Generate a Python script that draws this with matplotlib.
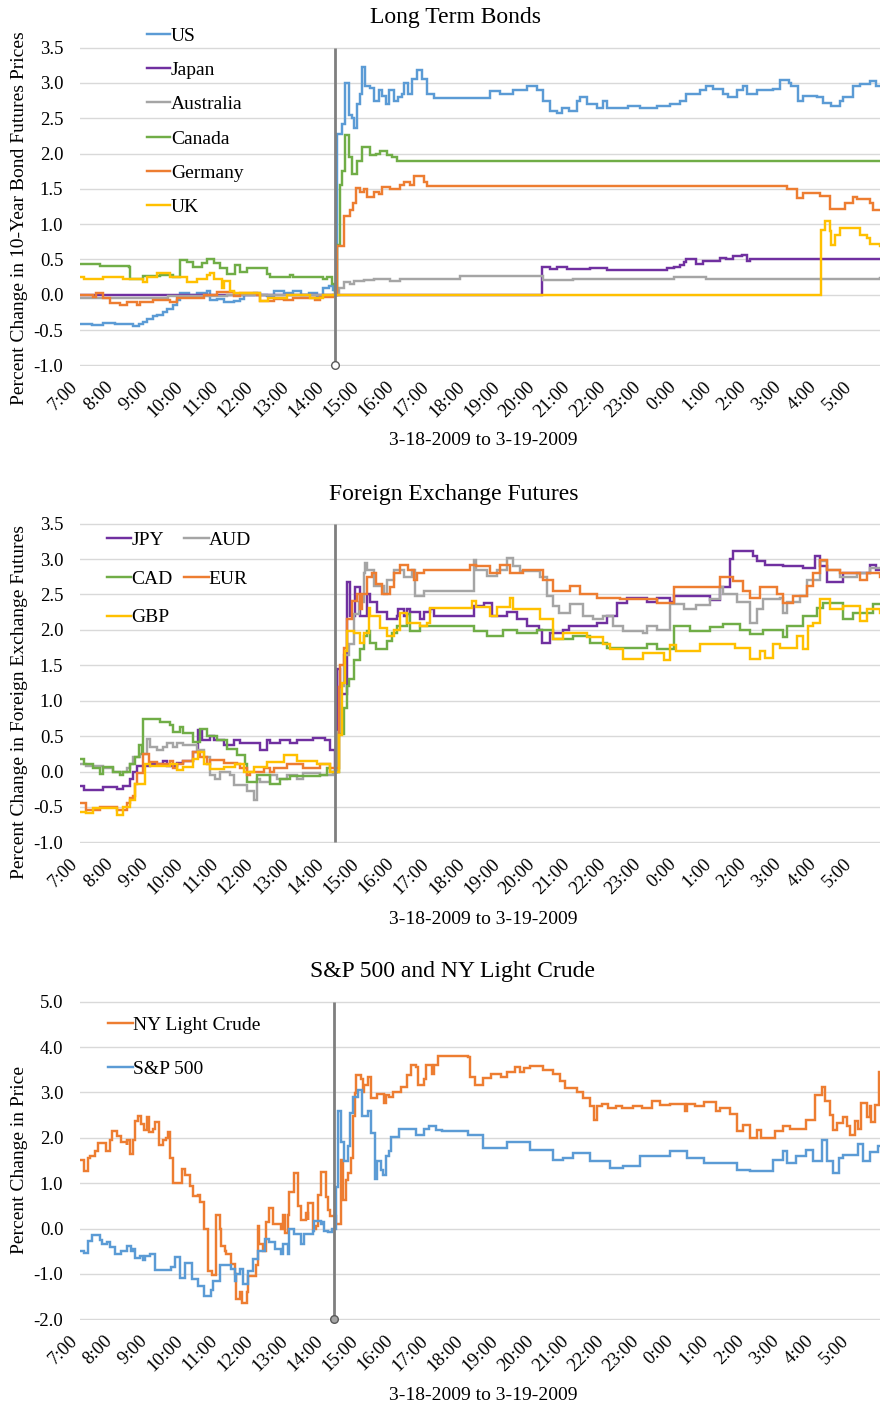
import matplotlib
matplotlib.use("Agg")
import matplotlib.pyplot as plt
from matplotlib.transforms import ScaledTranslation

plt.rcParams['font.family'] = ['Liberation Serif', 'DejaVu Serif']

# ---------------- data (minutes after 7:00 on 3-18-2009, percent change) ----------------
hour_labels = ["7:00", "8:00", "9:00", "10:00", "11:00", "12:00", "13:00", "14:00", "15:00",
               "16:00", "17:00", "18:00", "19:00", "20:00", "21:00", "22:00", "23:00", "0:00",
               "1:00", "2:00", "3:00", "4:00", "5:00"]
announce_t = 435  # 14:15

# Panel 1: Long term bonds
us_t = [0, 20, 40, 60, 80, 91, 100, 108, 114, 125, 131, 142, 148, 159, 165, 171, 185, 199, 211, 216, 222, 233,
        245, 262, 273, 279, 296, 307, 319, 330, 347, 364, 376, 390, 404, 415, 424, 432, 435, 439, 447, 452, 458,
        464, 467, 472, 477, 481, 486, 495, 501, 509, 515, 521, 526, 535, 543, 549, 552, 560, 566, 575, 583, 592,
        603, 699, 716, 739, 762, 779, 790, 801, 813, 821, 833, 847, 853, 864, 881, 892, 898, 935, 955, 983, 1006,
        1023, 1034, 1057, 1068, 1080, 1097, 1105, 1120, 1131, 1137, 1154, 1182, 1193, 1208, 1213, 1225, 1233,
        1256, 1267, 1281, 1296, 1301, 1318, 1330, 1347, 1358, 1364]
us_v = [-0.41, -0.43, -0.40, -0.42, -0.41, -0.44, -0.42, -0.38, -0.35, -0.30, -0.28, -0.24, -0.20, -0.15, -0.08,
        0.02, 0.0, 0.03, 0.02, 0.05, -0.08, -0.06, -0.10, -0.09, -0.06, 0.0, 0.03, 0.0, -0.02, 0.05, 0.03, 0.06,
        0.0, 0.02, -0.02, 0.10, 0.12, 0.07, 0.0, 2.28, 2.42, 3.00, 2.55, 2.50, 2.36, 2.70, 2.85, 3.22, 2.95, 2.93,
        2.75, 2.90, 2.82, 2.70, 2.90, 2.75, 2.80, 2.85, 3.00, 2.85, 3.05, 3.18, 3.05, 2.85, 2.78, 2.88, 2.85, 2.90,
        2.95, 2.90, 2.75, 2.60, 2.58, 2.65, 2.60, 2.75, 2.80, 2.70, 2.65, 2.75, 2.65, 2.68, 2.65, 2.68, 2.70, 2.75,
        2.85, 2.90, 2.96, 2.92, 2.85, 2.80, 2.90, 2.95, 2.85, 2.90, 2.92, 3.04, 3.00, 2.95, 2.75, 2.82, 2.80, 2.72,
        2.67, 2.75, 2.80, 2.95, 2.98, 3.03, 2.95, 2.95]

japan_t = [0, 787, 801, 813, 830, 847, 870, 898, 1000, 1012, 1023, 1029, 1034, 1051, 1063, 1091, 1102, 1114, 1128,
           1137, 1142, 1364]
japan_v = [0.0, 0.40, 0.37, 0.40, 0.36, 0.37, 0.38, 0.35, 0.38, 0.40, 0.42, 0.47, 0.51, 0.44, 0.48, 0.52, 0.50,
           0.55, 0.57, 0.48, 0.51, 0.51]

australia_t = [0, 60, 150, 250, 435, 441, 450, 461, 467, 484, 501, 529, 546, 648, 671, 790, 841, 1012, 1068, 1364]
australia_v = [-0.05, -0.04, -0.02, 0.0, 0.0, 0.10, 0.18, 0.15, 0.19, 0.21, 0.22, 0.20, 0.23, 0.27, 0.26, 0.21,
               0.23, 0.25, 0.22, 0.235]

canada_t = [0, 34, 83, 85, 102, 108, 137, 159, 171, 182, 193, 208, 216, 228, 239, 250, 265, 273, 285, 319, 324, 358,
            364, 415, 421, 430, 434, 439, 443, 447, 451, 458, 464, 472, 481, 495, 504, 512, 523, 532, 541, 1364]
canada_v = [0.43, 0.41, 0.40, 0.22, 0.22, 0.26, 0.28, 0.25, 0.49, 0.47, 0.40, 0.45, 0.50, 0.45, 0.38, 0.30, 0.42,
            0.32, 0.38, 0.30, 0.25, 0.28, 0.25, 0.22, 0.25, 0.15, 0.05, 0.70, 1.55, 1.75, 2.26, 1.95, 1.71, 1.90,
            2.09, 1.98, 2.00, 2.03, 1.98, 1.95, 1.90, 1.90]

germany_t = [0, 14, 23, 28, 40, 51, 68, 80, 97, 102, 125, 154, 165, 211, 233, 262, 273, 302, 307, 330, 347, 364,
             401, 410, 432, 439, 450, 460, 465, 471, 478, 484, 489, 501, 509, 515, 529, 546, 552, 563, 569, 586, 592,
             1205, 1222, 1233, 1262, 1279, 1304, 1318, 1324, 1347, 1352, 1364]
germany_v = [0.0, -0.01, -0.03, 0.02, -0.05, -0.11, -0.15, -0.10, -0.15, -0.10, -0.08, -0.10, -0.05, 0.0, 0.04,
             -0.02, 0.02, 0.0, -0.09, -0.06, -0.08, -0.05, -0.08, -0.03, 0.0, 0.69, 1.11, 1.20, 1.30, 1.51, 1.45,
             1.50, 1.39, 1.45, 1.42, 1.52, 1.50, 1.55, 1.60, 1.55, 1.68, 1.60, 1.54, 1.50, 1.37, 1.44, 1.40, 1.21,
             1.30, 1.39, 1.35, 1.30, 1.20, 1.20]

uk_t = [0, 6, 40, 74, 108, 114, 131, 154, 182, 199, 216, 222, 228, 242, 245, 256, 262, 307, 321, 353, 393, 415, 435,
        1264, 1270, 1279, 1281, 1287, 1296, 1330, 1341, 1347, 1364]
uk_v = [0.25, 0.23, 0.25, 0.22, 0.18, 0.25, 0.31, 0.25, 0.18, 0.22, 0.28, 0.31, 0.22, 0.10, 0.20, 0.05, 0.03, -0.09,
        -0.05, 0.0, -0.05, 0.0, 0.0, 0.92, 1.04, 0.90, 0.71, 0.85, 0.95, 0.85, 0.80, 0.72, 0.69]

# Panel 2: Foreign exchange futures
jpy_t = [0, 6, 40, 63, 74, 85, 91, 97, 119, 142, 148, 165, 176, 193, 202, 208, 222, 228, 245, 262, 273, 307, 319,
         324, 341, 358, 370, 398, 418, 427, 435, 439, 443, 455, 461, 469, 478, 489, 495, 506, 523, 541, 543, 552,
         558, 563, 580, 586, 597, 603, 671, 688, 702, 728, 745, 762, 782, 787, 801, 824, 833, 881, 898, 915, 932,
         966, 983, 1006, 1012, 1074, 1091, 1108, 1114, 1148, 1154, 1168, 1199, 1233, 1253, 1262, 1273, 1301, 1347,
         1358, 1364]
jpy_v = [-0.20, -0.26, -0.22, -0.25, -0.20, -0.10, 0.0, 0.08, 0.10, 0.15, 0.08, 0.12, 0.15, 0.28, 0.58, 0.45, 0.50,
         0.45, 0.37, 0.45, 0.40, 0.30, 0.45, 0.40, 0.45, 0.40, 0.45, 0.48, 0.45, 0.30, 0.0, 1.45, 1.10, 2.67, 2.20,
         2.61, 2.20, 2.50, 2.40, 2.25, 2.15, 2.20, 2.30, 2.20, 2.30, 2.25, 2.15, 2.25, 2.30, 2.20, 2.34, 2.38, 2.20,
         2.25, 2.15, 2.06, 2.00, 1.82, 1.95, 2.00, 2.06, 2.10, 2.20, 2.38, 2.45, 2.40, 2.45, 2.40, 2.48, 2.42, 2.60,
         3.00, 3.11, 3.05, 2.97, 2.92, 2.90, 2.88, 3.04, 2.90, 2.67, 2.80, 2.92, 2.85, 2.85]

aud_t = [0, 11, 40, 57, 80, 85, 91, 102, 114, 119, 131, 142, 148, 159, 165, 176, 199, 211, 222, 230, 239, 256, 262,
         285, 296, 302, 307, 324, 336, 353, 370, 381, 410, 432, 439, 444, 450, 458, 467, 475, 484, 486, 489, 501,
         518, 523, 535, 552, 566, 572, 586, 615, 671, 676, 694, 711, 728, 739, 750, 784, 796, 807, 816, 836, 858,
         875, 892, 909, 926, 960, 966, 983, 1006, 1029, 1051, 1074, 1091, 1097, 1120, 1142, 1154, 1165, 1193, 1199,
         1205, 1227, 1239, 1262, 1273, 1296, 1324, 1347, 1364]
aud_v = [0.11, 0.08, 0.05, 0.0, 0.05, 0.10, 0.20, 0.25, 0.46, 0.35, 0.30, 0.35, 0.40, 0.35, 0.40, 0.37, 0.30, 0.20,
         -0.05, -0.10, 0.0, -0.05, -0.19, -0.28, -0.40, -0.10, -0.15, -0.05, -0.10, -0.05, -0.10, -0.02, -0.05, 0.0,
         0.56, 1.21, 1.64, 1.80, 2.22, 2.40, 2.80, 2.95, 2.85, 2.62, 2.50, 2.70, 2.85, 2.75, 2.85, 2.48, 2.55, 2.55,
         2.99, 2.85, 2.76, 2.85, 3.02, 2.90, 2.83, 2.75, 2.48, 2.34, 2.24, 2.36, 2.20, 2.15, 2.20, 2.06, 1.99, 1.95,
         2.05, 2.00, 2.36, 2.30, 2.35, 2.43, 2.60, 2.50, 2.39, 2.10, 2.30, 2.43, 2.45, 2.24, 2.40, 2.48, 2.71, 2.97,
         2.85, 2.74, 2.80, 2.88, 2.88]

cad_t = [0, 6, 23, 34, 40, 57, 68, 74, 85, 94, 100, 105, 108, 137, 154, 159, 171, 176, 193, 205, 216, 233, 250, 267,
         282, 285, 302, 324, 341, 358, 410, 421, 427, 441, 450, 455, 458, 467, 478, 484, 489, 495, 504, 523, 532,
         541, 558, 563, 580, 671, 694, 722, 745, 779, 807, 841, 870, 898, 926, 966, 983, 1012, 1040, 1074, 1097,
         1125, 1142, 1165, 1199, 1205, 1233, 1256, 1267, 1301, 1318, 1352, 1364]
cad_v = [0.18, 0.10, 0.05, -0.03, 0.07, 0.0, -0.05, 0.0, 0.10, 0.20, 0.37, 0.25, 0.74, 0.70, 0.65, 0.56, 0.63, 0.55,
         0.42, 0.60, 0.50, 0.45, 0.32, 0.23, 0.10, -0.15, -0.05, -0.17, -0.10, -0.07, -0.05, 0.05, 0.0, 0.53, 0.89,
         1.21, 1.31, 1.57, 1.73, 1.92, 1.99, 1.82, 1.73, 1.85, 1.95, 2.06, 2.22, 1.99, 2.05, 1.99, 1.92, 2.00, 1.96,
         2.00, 1.87, 1.92, 1.82, 1.75, 1.75, 1.80, 1.73, 2.06, 1.99, 2.04, 2.08, 2.00, 1.94, 2.00, 1.90, 2.05, 2.20,
         2.31, 2.38, 2.15, 2.24, 2.36, 2.36]

eur_t = [0, 11, 34, 63, 80, 85, 91, 94, 97, 108, 117, 131, 154, 159, 165, 176, 193, 205, 216, 222, 245, 267, 273,
         285, 290, 313, 324, 330, 353, 381, 410, 427, 441, 444, 450, 455, 464, 472, 478, 481, 489, 498, 504, 515,
         529, 535, 546, 560, 569, 575, 586, 665, 676, 699, 716, 733, 756, 790, 807, 836, 853, 881, 921, 983, 1012,
         1091, 1114, 1131, 1142, 1159, 1188, 1199, 1216, 1239, 1250, 1262, 1273, 1296, 1330, 1341, 1364]
eur_v = [-0.45, -0.54, -0.50, -0.55, -0.45, -0.38, -0.35, -0.17, -0.02, 0.25, 0.14, 0.10, 0.15, 0.05, 0.10, 0.15,
         0.28, 0.20, 0.10, 0.16, 0.12, 0.10, 0.05, -0.05, 0.0, 0.05, 0.0, 0.05, 0.11, 0.05, 0.10, 0.05, 1.20, 1.50,
         1.75, 2.15, 2.41, 2.50, 2.30, 2.50, 2.74, 2.80, 2.65, 2.50, 2.60, 2.80, 2.91, 2.85, 2.71, 2.80, 2.85, 2.92,
         2.90, 2.80, 2.91, 2.80, 2.85, 2.71, 2.55, 2.62, 2.50, 2.45, 2.43, 2.38, 2.60, 2.74, 2.69, 2.55, 2.45, 2.60,
         2.50, 2.38, 2.48, 2.62, 2.80, 2.99, 2.85, 2.80, 2.71, 2.80, 2.75]

gbp_t = [0, 11, 23, 63, 74, 85, 94, 111, 119, 154, 165, 176, 193, 202, 211, 222, 245, 265, 279, 296, 319, 347, 370,
         404, 427, 441, 447, 452, 455, 467, 478, 484, 492, 495, 512, 523, 535, 546, 558, 580, 592, 597, 668, 676,
         699, 711, 733, 739, 784, 807, 824, 841, 864, 892, 904, 926, 960, 995, 1006, 1017, 1057, 1117, 1142, 1159,
         1168, 1182, 1193, 1222, 1233, 1242, 1250, 1262, 1279, 1301, 1330, 1341, 1364]
gbp_v = [-0.57, -0.59, -0.52, -0.62, -0.50, -0.40, -0.17, 0.11, 0.08, 0.10, 0.02, 0.07, 0.18, 0.28, 0.10, 0.04,
         0.07, 0.11, 0.0, 0.07, 0.14, 0.23, 0.15, 0.10, 0.0, 0.51, 1.25, 1.70, 1.99, 1.95, 1.82, 1.95, 2.31, 2.20,
         2.03, 1.92, 2.00, 2.24, 2.10, 2.05, 2.10, 2.31, 2.41, 2.32, 2.20, 2.32, 2.45, 2.29, 2.15, 1.87, 1.95, 1.96,
         1.90, 1.80, 1.73, 1.59, 1.68, 1.57, 1.78, 1.70, 1.80, 1.75, 1.59, 1.70, 1.60, 1.80, 1.75, 1.92, 1.73, 2.06,
         2.10, 2.43, 2.30, 2.34, 2.13, 2.30, 2.24]

# Panel 3: S&P 500 and NY light crude
crude_t = [0, 6, 14, 17, 26, 31, 44, 51, 54, 63, 71, 80, 81, 85, 91, 94, 100, 105, 109, 115, 118, 125, 128, 135, 142,
           148, 151, 154, 159, 174, 179, 188, 193, 202, 205, 213, 219, 226, 233, 239, 242, 248, 250, 259, 265, 267,
           274, 278, 285, 287, 302, 304, 307, 313, 319, 324, 330, 344, 347, 350, 356, 358, 367, 373, 378, 386, 390,
           391, 398, 404, 407, 413, 421, 424, 427, 438, 447, 450, 455, 458, 464, 467, 468, 471, 473, 481, 484, 486,
           492, 498, 509, 521, 523, 529, 535, 549, 560, 566, 575, 578, 589, 592, 603, 606, 612, 664, 667, 676, 690,
           704, 721, 730, 744, 753, 759, 770, 793, 810, 821, 830, 838, 850, 861, 873, 879, 884, 893, 904, 918, 927,
           947, 961, 978, 992, 1010, 1035, 1038, 1052, 1067, 1089, 1095, 1112, 1124, 1135, 1146, 1158, 1166, 1189,
           1203, 1215, 1243, 1258, 1269, 1275, 1283, 1289, 1295, 1306, 1312, 1317, 1326, 1332, 1337, 1346, 1352,
           1354, 1360, 1367, 1369]
crude_v = [1.52, 1.26, 1.55, 1.60, 1.70, 1.88, 1.70, 1.95, 2.14, 2.05, 1.90, 1.85, 1.95, 1.65, 1.95, 2.36, 2.49,
           2.30, 2.18, 2.46, 2.12, 2.20, 2.34, 1.85, 1.95, 2.00, 2.12, 1.55, 1.00, 1.31, 1.19, 0.93, 0.71, 0.75, 0.59,
           0.0, -0.94, -1.03, 0.31, 0.0, -0.39, -0.50, -0.55, -0.79, -1.00, -1.55, -1.40, -1.65, -1.40, -1.05, -0.80,
           0.05, -0.35, -0.50, 0.15, 0.45, 0.10, 0.0, 0.31, -0.10, 0.30, 0.81, 1.22, 0.49, 0.20, 0.35, 0.20, 0.56,
           0.0, 0.05, 0.75, 1.24, 0.70, 0.40, 0.27, 0.10, 1.52, 0.64, 1.08, 1.22, 1.55, 2.29, 2.47, 2.98, 3.39, 3.30,
           3.02, 3.17, 3.35, 2.87, 2.97, 2.76, 2.95, 2.90, 3.02, 3.13, 3.39, 3.60, 3.55, 3.17, 3.30, 3.60, 3.41, 3.60,
           3.80, 3.79, 3.35, 3.17, 3.31, 3.40, 3.35, 3.46, 3.56, 3.45, 3.53, 3.58, 3.50, 3.40, 3.26, 3.09, 3.10, 3.02,
           2.87, 2.69, 2.40, 2.70, 2.74, 2.65, 2.70, 2.65, 2.70, 2.65, 2.80, 2.73, 2.75, 2.60, 2.75, 2.70, 2.78, 2.60,
           2.65, 2.53, 2.14, 2.29, 1.99, 2.18, 1.99, 2.15, 2.27, 2.20, 2.40, 2.95, 3.13, 2.80, 2.51, 2.18, 2.32, 2.45,
           2.25, 2.07, 2.36, 2.20, 2.76, 2.45, 2.70, 2.35, 2.73, 3.46, 3.46]

sp_t = [0, 6, 14, 20, 34, 37, 46, 51, 60, 71, 80, 88, 91, 94, 102, 107, 111, 119, 128, 156, 162, 171, 179, 191, 202,
        213, 225, 228, 239, 259, 265, 267, 274, 279, 287, 296, 304, 316, 324, 333, 344, 347, 356, 358, 367, 378,
        384, 398, 401, 413, 415, 418, 424, 432, 438, 441, 447, 452, 458, 462, 467, 475, 483, 492, 498, 504, 509,
        515, 518, 523, 529, 532, 546, 575, 589, 597, 609, 620, 664, 690, 730, 770, 810, 827, 844, 873, 907, 930,
        958, 1010, 1038, 1067, 1124, 1146, 1186, 1203, 1209, 1226, 1243, 1255, 1269, 1278, 1289, 1298, 1306, 1332,
        1340, 1352, 1366, 1369]
sp_v = [-0.50, -0.54, -0.28, -0.15, -0.25, -0.35, -0.30, -0.41, -0.55, -0.50, -0.39, -0.50, -0.45, -0.65, -0.60,
        -0.70, -0.60, -0.57, -0.92, -0.85, -0.62, -1.09, -0.75, -1.12, -1.27, -1.49, -1.35, -1.16, -0.81, -0.90,
        -1.16, -1.00, -0.90, -1.23, -0.94, -0.68, -0.50, -0.23, -0.30, -0.46, -0.55, -0.35, -0.55, -0.02, -0.13,
        -0.35, -0.11, -0.05, 0.16, 0.10, 0.15, -0.05, -0.08, 0.0, 0.92, 2.60, 1.90, 1.50, 1.81, 2.54, 2.91, 3.06,
        2.47, 2.60, 2.10, 1.10, 1.50, 1.30, 1.17, 1.59, 1.70, 2.02, 2.20, 2.07, 2.20, 2.25, 2.18, 2.16, 2.07, 1.77,
        1.90, 1.74, 1.52, 1.55, 1.66, 1.48, 1.33, 1.37, 1.59, 1.70, 1.55, 1.44, 1.30, 1.26, 1.52, 1.70, 1.45, 1.60,
        1.74, 1.50, 1.96, 1.50, 1.22, 1.55, 1.63, 1.86, 1.50, 1.68, 1.81, 1.81]

# ---------------- styling ----------------
BLUE, ORANGE, GRAY, YELLOW, GREEN, PURPLE = "#5B9BD5", "#ED7D31", "#A5A5A5", "#FFC000", "#70AD47", "#7030A0"
LW = 1.75
W, H = 880, 1403


def fx(px):
    return px / W


def fy(py):
    return 1 - py / H


fig = plt.figure(figsize=(W / 100, H / 100), dpi=100)
xlab_shift = ScaledTranslation(1 / 100, 0, fig.dpi_scale_trans)


def make_axes(top_px, bot_px, ylim, yticks, xmax):
    ax = fig.add_axes([fx(80), fy(bot_px), fx(880) - fx(80), (bot_px - top_px) / H])
    ax.set_xlim(0, xmax)
    pad = (ylim[1] - ylim[0]) * 0.002
    ax.set_ylim(ylim[0] - pad, ylim[1] + pad)
    ax.set_yticks(yticks)
    ax.set_yticklabels([f"{v:.1f}" for v in yticks])
    ax.set_xticks(list(range(0, 60 * len(hour_labels), 60)))
    ax.set_xticklabels(hour_labels, rotation=45, ha="right")
    ax.tick_params(axis="x", length=0, pad=8.7, labelsize=13.5)
    ax.tick_params(axis="y", length=0, pad=12, labelsize=13.5)
    for lab in ax.get_xticklabels():
        lab.set_transform(lab.get_transform() + xlab_shift)
    ax.yaxis.grid(True, color="#D9D9D9", lw=1.0)
    ax.set_axisbelow(True)
    for s in ax.spines.values():
        s.set_visible(False)
    return ax


def vline(ax, ylim, marker_face):
    ax.plot([announce_t, announce_t], ylim, color="#7F7F7F", lw=2.0, zorder=5, solid_capstyle="butt",
            clip_on=False)
    if marker_face is not None:
        ax.plot([announce_t], [ylim[0]], marker="o", ms=5.5, mfc=marker_face, mec="#595959", mew=1.0,
                zorder=6, clip_on=False, linestyle="none")


def series(ax, t, v, color, label):
    return ax.plot(t, v, drawstyle="steps-post", color=color, lw=LW, label=label, solid_joinstyle="miter")[0]


LEG_FS = 14

# ---------------- Panel 1 ----------------
ax1 = make_axes(47, 366, (-1.0, 3.5), [-1.0, -0.5, 0.0, 0.5, 1.0, 1.5, 2.0, 2.5, 3.0, 3.5], 1364)
h1 = [series(ax1, us_t, us_v, BLUE, "US"),
      series(ax1, japan_t, japan_v, PURPLE, "Japan"),
      series(ax1, australia_t, australia_v, GRAY, "Australia"),
      series(ax1, canada_t, canada_v, GREEN, "Canada"),
      series(ax1, germany_t, germany_v, ORANGE, "Germany"),
      series(ax1, uk_t, uk_v, YELLOW, "UK")]
vline(ax1, (-1.0, 3.5), "white")
ax1.set_ylabel("Percent Change in 10-Year Bond Futures Prices", fontsize=14)
ax1.yaxis.set_label_coords(-0.065, 0.464)
ax1.legend(handles=h1, loc="upper left", bbox_to_anchor=(fx(147), fy(27)), bbox_transform=fig.transFigure,
           frameon=False, fontsize=LEG_FS, handlelength=1.2, handletextpad=0.03, labelspacing=0.86,
           borderpad=0, borderaxespad=0)
fig.text(fx(455), fy(17.5), "Long Term Bonds", fontsize=17, ha="center", va="center")
fig.text(fx(483), fy(441), "3-18-2009 to 3-19-2009", fontsize=14, ha="center", va="center")

# ---------------- Panel 2 ----------------
ax2 = make_axes(523, 843, (-1.0, 3.5), [-1.0, -0.5, 0.0, 0.5, 1.0, 1.5, 2.0, 2.5, 3.0, 3.5], 1364)
l_jpy = series(ax2, jpy_t, jpy_v, PURPLE, "JPY")
l_aud = series(ax2, aud_t, aud_v, GRAY, "AUD")
l_cad = series(ax2, cad_t, cad_v, GREEN, "CAD")
l_eur = series(ax2, eur_t, eur_v, ORANGE, "EUR")
l_gbp = series(ax2, gbp_t, gbp_v, YELLOW, "GBP")
vline(ax2, (-1.0, 3.5), None)
ax2.set_ylabel("Percent Change in Foreign Exchange Futures", fontsize=14)
ax2.yaxis.set_label_coords(-0.065, 0.44)
ax2.legend(handles=[l_jpy, l_cad, l_gbp, l_aud, l_eur], ncol=2, loc="upper left",
           bbox_to_anchor=(fx(107), fy(531.5)), bbox_transform=fig.transFigure, frameon=False, fontsize=LEG_FS,
           handlelength=1.25, handletextpad=0.0, labelspacing=1.08, columnspacing=0.6, borderpad=0,
           borderaxespad=0)
fig.text(fx(454), fy(494.5), "Foreign Exchange Futures", fontsize=17, ha="center", va="center")
fig.text(fx(483), fy(920), "3-18-2009 to 3-19-2009", fontsize=14, ha="center", va="center")

# ---------------- Panel 3 ----------------
ax3 = make_axes(1001, 1320, (-2.0, 5.0), [-2.0, -1.0, 0.0, 1.0, 2.0, 3.0, 4.0, 5.0], 1369)
l_crude = series(ax3, crude_t, crude_v, ORANGE, "NY Light Crude")
l_sp = series(ax3, sp_t, sp_v, BLUE, "S&P 500")
vline(ax3, (-2.0, 5.0), "#A5A5A5")
ax3.set_ylabel("Percent Change in Price", fontsize=14)
ax3.yaxis.set_label_coords(-0.065, 0.5)
ax3.legend(handles=[l_crude, l_sp], loc="upper left", bbox_to_anchor=(fx(108), fy(1016.5)),
           bbox_transform=fig.transFigure, frameon=False, fontsize=LEG_FS, handlelength=1.29,
           handletextpad=0.0, labelspacing=1.36, borderpad=0, borderaxespad=0)
fig.text(fx(452), fy(971), "S&P 500 and NY Light Crude", fontsize=17, ha="center", va="center")
fig.text(fx(483), fy(1396), "3-18-2009 to 3-19-2009", fontsize=14, ha="center", va="center")

fig.savefig("out.png", dpi=100)
